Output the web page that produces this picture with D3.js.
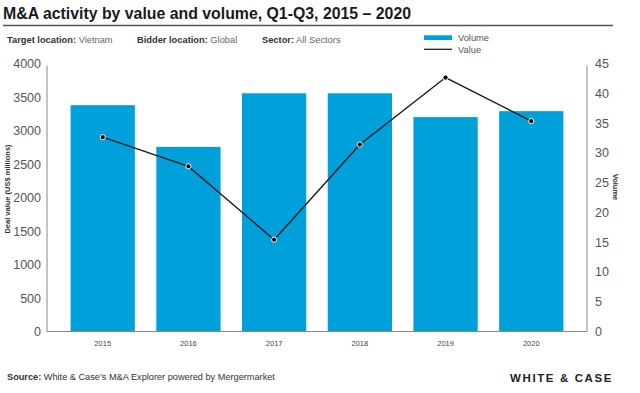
<!DOCTYPE html>
<html>
<head>
<meta charset="utf-8">
<script src="https://cdn.jsdelivr.net/npm/d3@7"></script>
<style>
  body { margin: 0; background: #fff; }
  svg { display: block; font-family: "Liberation Sans", Arial, sans-serif; }
</style>
</head>
<body>
<div class="js-vis"></div>
<script>
const years = ['2015', '2016', '2017', '2018', '2019', '2020']
const volume = [38, 31, 40, 40, 36, 37]
const dealValue = [2900, 2465, 1370, 2790, 3790, 3140]
const leftTicks = [0, 500, 1000, 1500, 2000, 2500, 3000, 3500, 4000]
const rightTicks = [0, 5, 10, 15, 20, 25, 30, 35, 40, 45]

const W = 640, H = 393
const margin = { top: 63.5, right: 53, bottom: 61.5, left: 47 }

const svg = d3.select(".js-vis").append("svg")
    .attr("width", W)
    .attr("height", H)

// header
svg.append("text")
  .attr("x", 3).attr("y", 18.5)
  .attr("font-size", 16).attr("font-weight", "bold")
  .attr("fill", "#1a1a1a")
  .attr("textLength", 408).attr("lengthAdjust", "spacingAndGlyphs")
  .text("M&A activity by value and volume, Q1-Q3, 2015 \u2013 2020")

svg.append("line")
  .attr("x1", 3).attr("x2", 613)
  .attr("y1", 25.5).attr("y2", 25.5)
  .attr("stroke", "#555").attr("stroke-width", 1.3)

const filters = [
  { k: "Target location:", v: "Vietnam", x: 7 },
  { k: "Bidder location:", v: "Global", x: 137 },
  { k: "Sector:", v: "All Sectors", x: 262 }
]
const ft = svg.selectAll(".filter")
  .data(filters)
.enter().append("text")
  .attr("class", "filter")
  .attr("x", d => d.x).attr("y", 42.5)
  .attr("font-size", 9.3).attr("fill", "#333")
ft.append("tspan").attr("font-weight", "bold").text(d => d.k)
ft.append("tspan").attr("fill", "#666").text(d => " " + d.v)

// legend
const lg = svg.append("g").attr("font-size", 9.3).attr("fill", "#555")
lg.append("rect").attr("x", 424).attr("y", 35.3).attr("width", 28).attr("height", 4.7).attr("fill", "#00a0db")
lg.append("text").attr("x", 458).attr("y", 40.8).text("Volume")
lg.append("line").attr("x1", 424).attr("x2", 452).attr("y1", 49.3).attr("y2", 49.3).attr("stroke", "#222").attr("stroke-width", 1.3)
lg.append("text").attr("x", 458).attr("y", 52.8).text("Value")

// scales
const x = d3.scaleBand()
  .domain(years)
  .range([margin.left, W - margin.right])
  .paddingInner(0.25)
  .paddingOuter(0.275)

const yL = d3.scaleLinear().domain([0, 4000]).range([H - margin.bottom, margin.top])
const yR = d3.scaleLinear().domain([0, 45]).range([H - margin.bottom, margin.top])

// bars
svg.selectAll(".bar")
  .data(years)
.enter().append("rect")
  .attr("class", "bar")
  .attr("x", d => x(d))
  .attr("width", x.bandwidth())
  .attr("y", (d, i) => yR(volume[i]))
  .attr("height", (d, i) => yR(0) - yR(volume[i]))
  .attr("fill", "#00a0db")

// axes
const axL = svg.append("g")
  .attr("transform", "translate(" + margin.left + ",0)")
  .call(d3.axisLeft(yL).tickValues(leftTicks).tickFormat(d3.format("d")).tickSize(0).tickPadding(6))
axL.select(".domain").attr("stroke", "#888").attr("d", "M0," + (margin.top + 2) + "V" + yL(0))
axL.selectAll("text").attr("font-size", 12.5).attr("fill", "#555").attr("font-family", "Liberation Sans, Arial, sans-serif")

const axR = svg.append("g")
  .attr("transform", "translate(" + (W - margin.right) + ",0)")
  .call(d3.axisRight(yR).tickValues(rightTicks).tickSize(0).tickPadding(8))
axR.select(".domain").attr("stroke", "#888").attr("d", "M0," + (margin.top + 2) + "V" + yR(0))
axR.selectAll("text").attr("font-size", 12.5).attr("fill", "#555").attr("font-family", "Liberation Sans, Arial, sans-serif")

const axB = svg.append("g")
  .attr("transform", "translate(0," + yL(0) + ")")
  .call(d3.axisBottom(x).tickSize(0).tickPadding(9))
axB.select(".domain").attr("stroke", "#888").attr("d", "M" + margin.left + ",0H" + (W - margin.right))
axB.selectAll("text").attr("font-size", 7.5).attr("fill", "#444").attr("font-family", "Liberation Sans, Arial, sans-serif")

// axis titles
svg.append("text")
  .attr("transform", "translate(9.5," + 189 + ") rotate(-90)")
  .attr("text-anchor", "middle")
  .attr("font-size", 7.5).attr("font-weight", "bold").attr("fill", "#333")
  .text("Deal value (US$ millions)")

svg.append("text")
  .attr("transform", "translate(613," + 187 + ") rotate(90)")
  .attr("text-anchor", "middle")
  .attr("font-size", 7.5).attr("font-weight", "bold").attr("fill", "#333")
  .text("Volume")

// value line
const line = d3.line()
  .x((d, i) => x(years[i]) + x.bandwidth() / 2)
  .y(d => yL(d))

svg.append("path")
  .datum(dealValue)
  .attr("d", line)
  .attr("fill", "none")
  .attr("stroke", "#1a1a1a")
  .attr("stroke-width", 1.4)

svg.selectAll(".dot")
  .data(dealValue)
.enter().append("circle")
  .attr("class", "dot")
  .attr("r", 2.6)
  .attr("cx", (d, i) => x(years[i]) + x.bandwidth() / 2)
  .attr("cy", d => yL(d))
  .attr("fill", "#000")
  .attr("stroke", "#fff")
  .attr("stroke-width", 1)

// footer
const src = svg.append("text")
  .attr("x", 7).attr("y", 380)
  .attr("font-size", 9.2).attr("fill", "#333")
src.append("tspan").attr("font-weight", "bold").text("Source:")
src.append("tspan").text(" White & Case\u2019s M&A Explorer powered by Mergermarket")

svg.append("text")
  .attr("x", 613).attr("y", 381.5)
  .attr("text-anchor", "end")
  .attr("font-size", 11.5).attr("font-weight", "bold")
  .attr("letter-spacing", 1.6)
  .attr("fill", "#222")
  .text("WHITE & CASE")
</script>
</body>
</html>
